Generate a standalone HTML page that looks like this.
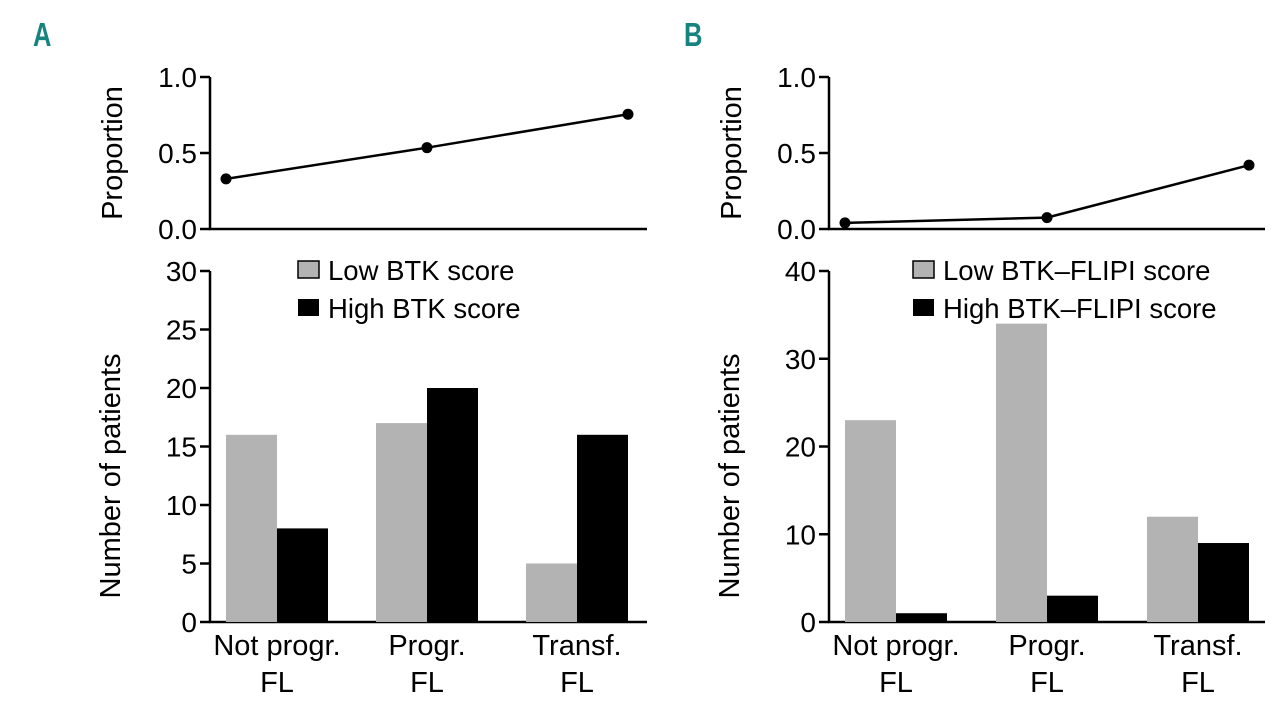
<!DOCTYPE html>
<html><head><meta charset="utf-8"><style>
html,body{margin:0;padding:0;background:#fff;}
svg{display:block;font-family:"Liberation Sans",sans-serif;}
</style></head><body>
<svg id="fig" width="1280" height="714" viewBox="0 0 1280 714" xmlns="http://www.w3.org/2000/svg">
<text x="33" y="46" font-size="30" font-weight="bold" fill="#17837f" transform="translate(33,46) scale(0.85,1.1) translate(-33,-46)">A</text>
<text x="684" y="46" font-size="30" font-weight="bold" fill="#17837f" transform="translate(684,46) scale(0.85,1.1) translate(-684,-46)">B</text>
</svg>
<script>
const categories = ["Not progr.|FL", "Progr.|FL", "Transf.|FL"];
const aLow = [16, 17, 5];
const aHigh = [8, 20, 16];
const aProp = [0.33, 0.535, 0.755];
const bLow = [23, 34, 12];
const bHigh = [1, 3, 9];
const bProp = [0.04, 0.075, 0.42];
const propTicks = ["0.0", "0.5", "1.0"];
const aTicks = ["0", "5", "10", "15", "20", "25", "30"];
const bTicks = ["0", "10", "20", "30", "40"];
const aLegend = ["Low BTK score", "High BTK score"];
const bLegend = ["Low BTK\u2013FLIPI score", "High BTK\u2013FLIPI score"];

const svg = document.getElementById('fig');
const NS = 'http://www.w3.org/2000/svg';
function mk(tag, attrs, parent) {
  const e = document.createElementNS(NS, tag);
  for (const k in attrs) e.setAttribute(k, attrs[k]);
  (parent || svg).appendChild(e);
  return e;
}

function panel(p) {
  const g = mk('g', {});
  
  
  const ax = p.axisX, xEnd = p.axisEnd;
  const pTop = 77, pBot = 229, bTop = 271, bBot = 622;
  const yProp = v => pBot - v / 1.0 * (pBot - pTop);
  const yBar = v => bBot - v / p.max * (bBot - bTop);
  const xGroup = i => p.c0 + i * p.step;
  const bw = p.bw;
  const t1 = mk('path', {d: `M${ax} ${pTop}V${pBot}H${xEnd}`, stroke: '#000', 'stroke-width': 2.5, fill: 'none'}, g);
  
  
  propTicks.forEach(t => {
    const y = yProp(parseFloat(t));
    mk('line', {x1: ax - 10, x2: ax, y1: y, y2: y, stroke: '#000', 'stroke-width': 2.5}, g);
    const tx = mk('text', {x: ax - 13, y: y + 10, 'text-anchor': 'end', 'font-size': 28}, g);
    tx.textContent = t;
    
    
  });
  const yl1 = mk('text', {transform: `translate(${ax - 88},153) rotate(-90)`, 'text-anchor': 'middle', 'font-size': 29}, g);
  yl1.textContent = 'Proportion';
  
  
  const px = i => i === 0 ? xGroup(i) - bw : (i === p.prop.length - 1 ? xGroup(i) + bw : xGroup(i));
  const pts = p.prop.map((v, i) => px(i) + ',' + yProp(v)).join(' ');
  const pl = mk('polyline', {points: pts, fill: 'none', stroke: '#000', 'stroke-width': 2.5}, g);
  
  
  p.prop.forEach((v, i) => {
    const c = mk('circle', {cx: px(i), cy: yProp(v), r: 5.5, fill: '#000'}, g);
    
    
  });
  const t2 = mk('path', {d: `M${ax} ${bTop}V${bBot}H${xEnd}`, stroke: '#000', 'stroke-width': 2.5, fill: 'none'}, g);
  
  
  p.ticks.forEach(t => {
    const y = yBar(parseFloat(t));
    mk('line', {x1: ax - 10, x2: ax, y1: y, y2: y, stroke: '#000', 'stroke-width': 2.5}, g);
    const tx = mk('text', {x: ax - 13, y: y + 10, 'text-anchor': 'end', 'font-size': 28}, g);
    tx.textContent = t;
    
    
  });
  const yl2 = mk('text', {transform: `translate(${ax - 90},476) rotate(-90)`, 'text-anchor': 'middle', 'font-size': 29}, g);
  yl2.textContent = 'Number of patients';
  
  
  categories.forEach((c, i) => {
    const cx = xGroup(i);
    const r1 = mk('rect', {x: cx - bw, y: yBar(p.low[i]), width: bw, height: bBot - yBar(p.low[i]), fill: '#b3b3b3'}, g);
    
    
    const r2 = mk('rect', {x: cx, y: yBar(p.high[i]), width: bw, height: bBot - yBar(p.high[i]), fill: '#000'}, g);
    
    
    const parts = c.split('|');
    parts.forEach((s, j) => {
      const tx = mk('text', {x: cx, y: 655 + j * 37, 'text-anchor': 'middle', 'font-size': 29}, g);
      tx.textContent = s;
      
      
    });
  });
  p.legend.forEach((s, j) => {
    const y = 261 + j * 38;
    const r = mk('rect', {x: p.lx, y: y, width: 21, height: 17, fill: j === 0 ? '#b3b3b3' : '#000', stroke: '#000', 'stroke-width': j === 0 ? 1.5 : 0}, g);
    
    
    const tx = mk('text', {x: p.lx + 30, y: y + 19, 'font-size': 27.5}, g);
    tx.textContent = s;
    
    
  });
}

panel({id: 'a', axisX: 210, axisEnd: 647, c0: 277, step: 150, bw: 51, max: 30, ticks: aTicks, low: aLow, high: aHigh, prop: aProp, legend: aLegend, lx: 298});
panel({id: 'b', axisX: 829, axisEnd: 1265, c0: 896, step: 151, bw: 51, max: 40, ticks: bTicks, low: bLow, high: bHigh, prop: bProp, legend: bLegend, lx: 913});
</script>
</body></html>
